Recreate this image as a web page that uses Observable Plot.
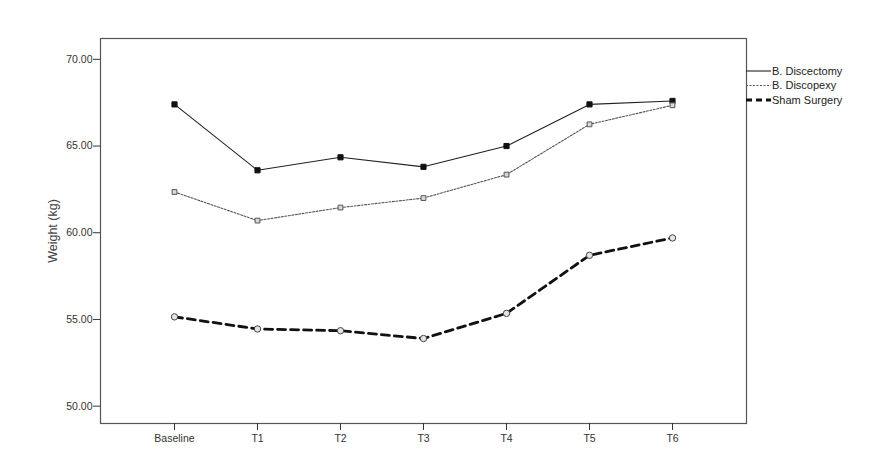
<!DOCTYPE html>
<html><head><meta charset="utf-8">
<script src="https://cdn.jsdelivr.net/npm/d3@7"></script>
<script src="https://cdn.jsdelivr.net/npm/@observablehq/plot@0.6"></script>
<style>
body{margin:0;background:#fff;font-family:"Liberation Sans",Arial,sans-serif}
#wrap{position:relative;width:881px;height:459px}
#legend{position:absolute;left:746px;top:0}
</style>
</head><body><div id="wrap"></div>
<script>
const timepoints = ["Baseline","T1","T2","T3","T4","T5","T6"];
const discectomy = [67.4, 63.6, 64.35, 63.8, 65.0, 67.4, 67.6];
const discopexy = [62.35, 60.7, 61.45, 62.0, 63.35, 66.25, 67.35];
const sham = [55.15, 54.45, 54.35, 53.9, 55.35, 58.7, 59.7];
const seriesNames = ["B. Discectomy", "B. Discopexy", "Sham Surgery"];
const yTicks = [50, 55, 60, 65, 70];
const yLabel = "Weight (kg)";

const styles = [
  {stroke:"#222", strokeWidth:1.1, dash:null, symbol:"square", fill:"#111", dotStroke:"#111", r:2.9},
  {stroke:"#555", strokeWidth:1.1, dash:"2,1.5", symbol:"square", fill:"#d8d8d8", dotStroke:"#555", r:2.7},
  {stroke:"#111", strokeWidth:2.8, dash:"8,5", symbol:"circle", fill:"#e4e4e4", dotStroke:"#444", r:3.2}
];
const allSeries = [discectomy, discopexy, sham];

const marks = [
  Plot.frame({stroke:"#555", strokeWidth:1.2}),
  Plot.axisY(yTicks, {tickSize:7, tickPadding:1, tickFormat:d=>d.toFixed(2), fontSize:10.5, label:null, color:"#333"}),
  Plot.axisY([], {tickSize:0, fontSize:12.5, label:yLabel, labelAnchor:"center", labelArrow:"none", labelOffset:52, color:"#444"}),
  Plot.axisX({tickSize:7, tickPadding:4, fontSize:10.5, label:null, color:"#333"})
];
allSeries.forEach((vals, k) => {
  const s = styles[k];
  marks.push(Plot.line(vals, {x:(d,i)=>timepoints[i], y:d=>d, stroke:s.stroke, strokeWidth:s.strokeWidth, strokeDasharray:s.dash}));
  marks.push(Plot.dot(vals, {x:(d,i)=>timepoints[i], y:d=>d, symbol:s.symbol, r:s.r, fill:s.fill, stroke:s.dotStroke, strokeWidth:1}));
});

const chart = Plot.plot({
  width:881, height:459,
  marginLeft:100, marginRight:135, marginTop:38, marginBottom:36,
  style:{fontFamily:"Liberation Sans, Arial, sans-serif", fontSize:"10.5px", color:"#333"},
  x:{type:"point", domain:timepoints, padding:0.88},
  y:{domain:[49.0, 71.2]},
  marks
});
const wrap = document.getElementById("wrap");
wrap.appendChild(chart);

// legend
const leg = d3.select(wrap).append("svg").attr("id","legend").attr("width",135).attr("height",120);
const rowsY = [71, 85.5, 100];
seriesNames.forEach((name, k) => {
  const s = styles[k];
  leg.append("line").attr("x1",0).attr("x2",25).attr("y1",rowsY[k]).attr("y2",rowsY[k])
    .attr("stroke", s.stroke).attr("stroke-width", k===2 ? 2.8 : 1.1)
    .attr("stroke-dasharray", k===2 ? "6,4" : s.dash);
  leg.append("text").attr("x",26).attr("y",rowsY[k]).attr("dy","0.35em")
    .attr("font-size","11px").attr("fill","#222").text(name);
});
</script>
</body></html>
